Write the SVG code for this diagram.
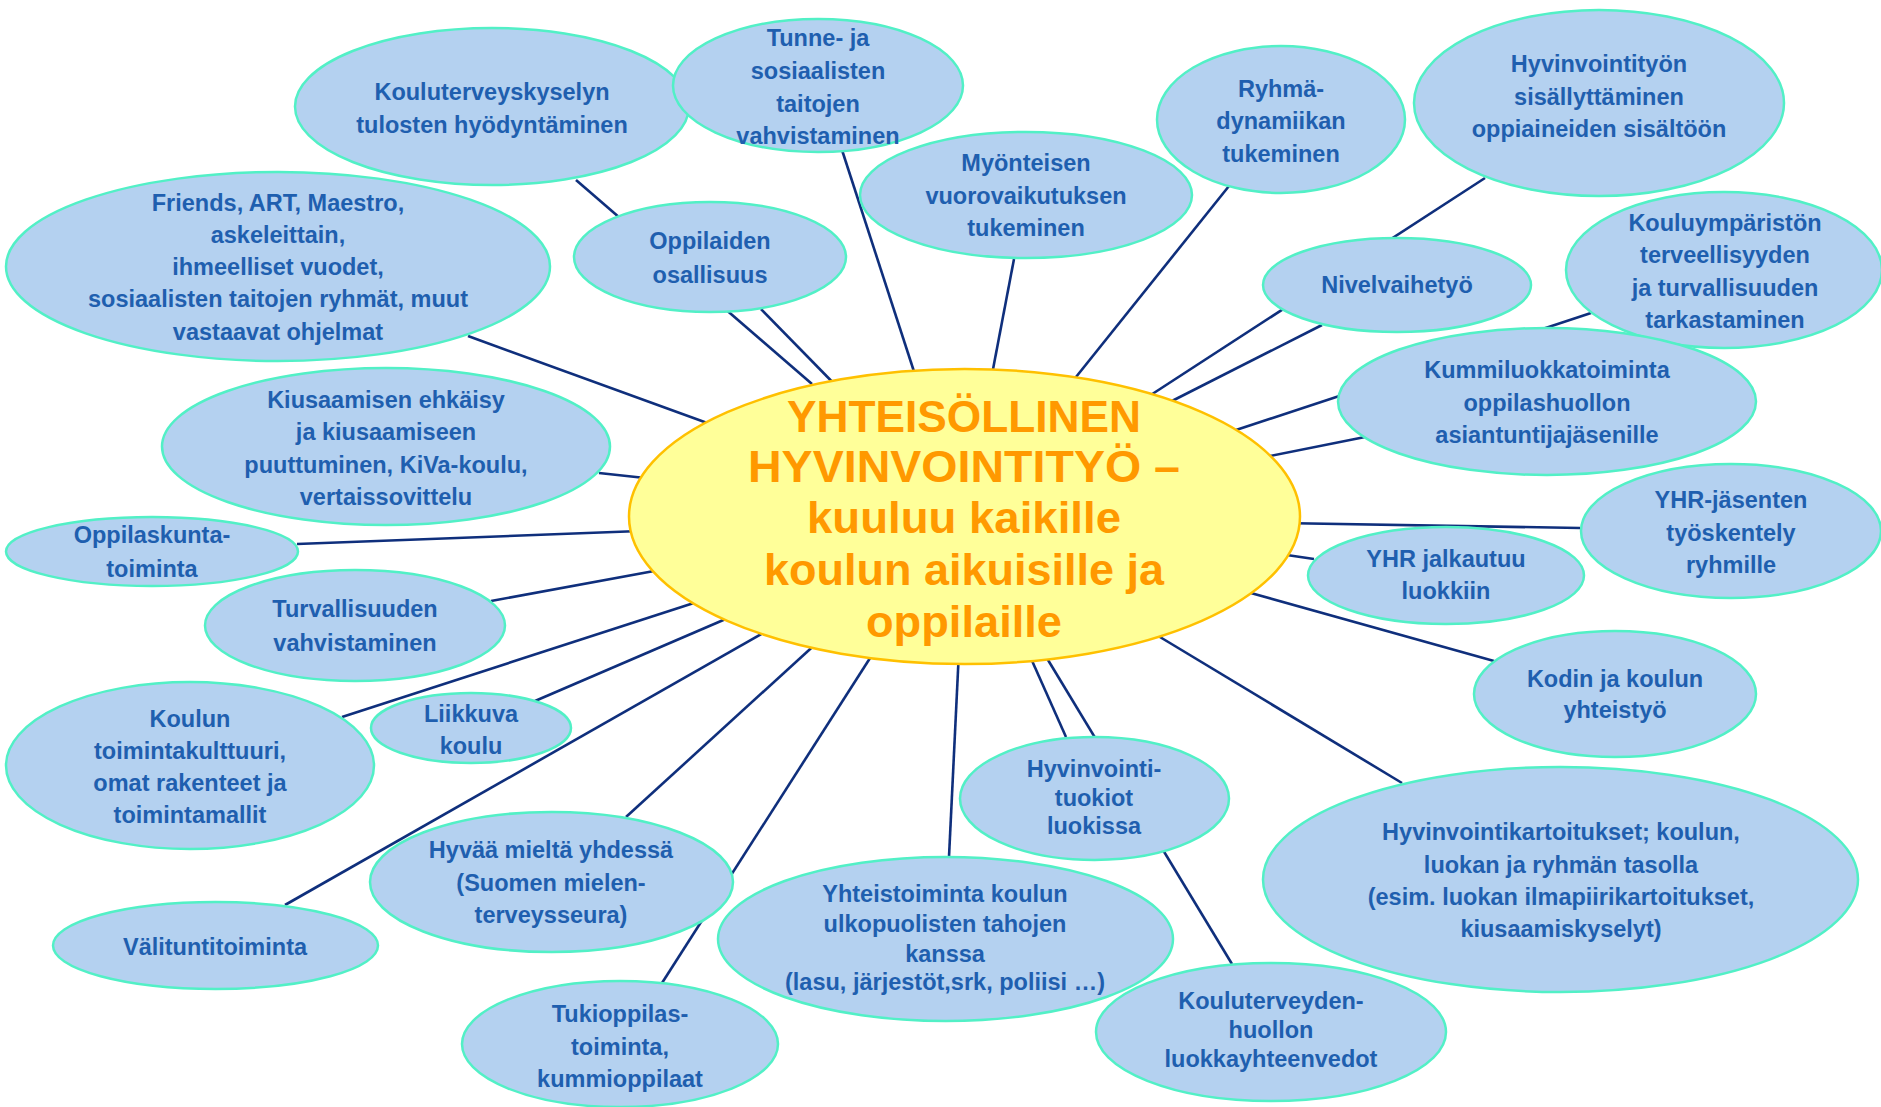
<svg xmlns="http://www.w3.org/2000/svg" width="1881" height="1107" viewBox="0 0 1881 1107">
<style>
.bg{fill:#ffffff}
.lk line{stroke:#0f2f7c;stroke-width:2.6;fill:none}
.nd ellipse{fill:#b4d1f0;stroke:#52f0c6;stroke-width:2.5}
.nd text{font-family:"Liberation Sans Narrow","Liberation Sans",sans-serif;font-weight:bold;font-size:23.5px;fill:#1f5faf;text-anchor:middle}
#center ellipse{fill:#ffff99;stroke:#ffc000;stroke-width:2.5}
#center text{font-family:"Liberation Sans",Arial,sans-serif;font-weight:bold;font-size:44px;fill:#ff9900;text-anchor:middle}
</style>
<rect class="bg" x="0" y="0" width="1881" height="1107"/>
<g id="connectors" class="lk">
<line x1="576" y1="180" x2="812" y2="384"/>
<line x1="761" y1="309" x2="850" y2="400"/>
<line x1="842" y1="150" x2="920" y2="390"/>
<line x1="1014" y1="259" x2="990" y2="385"/>
<line x1="1229" y1="186" x2="1068" y2="387"/>
<line x1="1485" y1="178" x2="1140" y2="402"/>
<line x1="1322" y1="325" x2="1170" y2="402"/>
<line x1="1591" y1="313" x2="1236" y2="430"/>
<line x1="1365" y1="437" x2="1260" y2="458"/>
<line x1="1580" y1="528" x2="1280" y2="523"/>
<line x1="1314" y1="559" x2="1280" y2="554"/>
<line x1="1494" y1="661" x2="1240" y2="590"/>
<line x1="1402" y1="783" x2="1150" y2="631"/>
<line x1="1066" y1="737" x2="1025" y2="645"/>
<line x1="1232" y1="964" x2="1045" y2="655"/>
<line x1="949" y1="857" x2="959" y2="650"/>
<line x1="662" y1="983" x2="872" y2="655"/>
<line x1="626" y1="817" x2="820" y2="640"/>
<line x1="285" y1="905" x2="765" y2="632"/>
<line x1="342" y1="717" x2="700" y2="601"/>
<line x1="535" y1="701" x2="735" y2="615"/>
<line x1="491" y1="601" x2="665" y2="569"/>
<line x1="297" y1="544" x2="640" y2="531"/>
<line x1="599" y1="473" x2="645" y2="478"/>
<line x1="468" y1="336" x2="710" y2="424"/>
</g>
<g id="center">
<ellipse cx="964.5" cy="516.5" rx="335.5" ry="147.5"/>
<text x="964" y="432" textLength="354" lengthAdjust="spacingAndGlyphs">YHTEISÖLLINEN</text>
<text x="964" y="482" textLength="432" lengthAdjust="spacingAndGlyphs">HYVINVOINTITYÖ –</text>
<text x="964" y="533" textLength="314" lengthAdjust="spacingAndGlyphs">kuuluu kaikille</text>
<text x="964" y="585" textLength="400" lengthAdjust="spacingAndGlyphs">koulun aikuisille ja</text>
<text x="964" y="637" textLength="196" lengthAdjust="spacingAndGlyphs">oppilaille</text>
</g>
<g id="n1" class="nd"><ellipse cx="492" cy="106.5" rx="197" ry="78.5"/><text x="492" y="100">Kouluterveyskyselyn</text><text x="492" y="133">tulosten hyödyntäminen</text></g>
<g id="n2" class="nd"><ellipse cx="818" cy="85.5" rx="145" ry="66.5"/><text x="818" y="46">Tunne- ja</text><text x="818" y="79">sosiaalisten</text><text x="818" y="112">taitojen</text><text x="818" y="144">vahvistaminen</text></g>
<g id="n3" class="nd"><ellipse cx="278" cy="266.5" rx="272" ry="94.5"/><text x="278" y="211">Friends, ART, Maestro,</text><text x="278" y="243">askeleittain,</text><text x="278" y="275">ihmeelliset vuodet,</text><text x="278" y="307">sosiaalisten taitojen ryhmät, muut</text><text x="278" y="340">vastaavat ohjelmat</text></g>
<g id="n4" class="nd"><ellipse cx="710" cy="257" rx="136" ry="55"/><text x="710" y="249">Oppilaiden</text><text x="710" y="283">osallisuus</text></g>
<g id="n5" class="nd"><ellipse cx="1026" cy="195" rx="166" ry="63"/><text x="1026" y="171">Myönteisen</text><text x="1026" y="204">vuorovaikutuksen</text><text x="1026" y="236">tukeminen</text></g>
<g id="n6" class="nd"><ellipse cx="1281" cy="119.5" rx="124" ry="73.5"/><text x="1281" y="97">Ryhmä-</text><text x="1281" y="129">dynamiikan</text><text x="1281" y="162">tukeminen</text></g>
<g id="n7" class="nd"><ellipse cx="1599" cy="103" rx="185" ry="93"/><text x="1599" y="72">Hyvinvointityön</text><text x="1599" y="105">sisällyttäminen</text><text x="1599" y="137">oppiaineiden sisältöön</text></g>
<g id="n8" class="nd"><ellipse cx="1397" cy="285" rx="134" ry="47"/><text x="1397" y="293">Nivelvaihetyö</text></g>
<g id="n9" class="nd"><ellipse cx="1724" cy="270" rx="158" ry="78"/><text x="1725" y="231">Kouluympäristön</text><text x="1725" y="263">terveellisyyden</text><text x="1725" y="296">ja turvallisuuden</text><text x="1725" y="328">tarkastaminen</text></g>
<g id="n10" class="nd"><ellipse cx="1547" cy="401.5" rx="209" ry="73.5"/><text x="1547" y="378">Kummiluokkatoiminta</text><text x="1547" y="411">oppilashuollon</text><text x="1547" y="443">asiantuntijajäsenille</text></g>
<g id="n11" class="nd"><ellipse cx="386" cy="446.5" rx="224" ry="78.5"/><text x="386" y="408">Kiusaamisen ehkäisy</text><text x="386" y="440">ja kiusaamiseen</text><text x="386" y="473">puuttuminen, KiVa-koulu,</text><text x="386" y="505">vertaissovittelu</text></g>
<g id="n12" class="nd"><ellipse cx="152" cy="551.5" rx="146" ry="34.5"/><text x="152" y="543">Oppilaskunta-</text><text x="152" y="577">toiminta</text></g>
<g id="n13" class="nd"><ellipse cx="1731" cy="531" rx="150" ry="67"/><text x="1731" y="508">YHR-jäsenten</text><text x="1731" y="541">työskentely</text><text x="1731" y="573">ryhmille</text></g>
<g id="n14" class="nd"><ellipse cx="1446" cy="575.5" rx="138" ry="48.5"/><text x="1446" y="567">YHR jalkautuu</text><text x="1446" y="599">luokkiin</text></g>
<g id="n15" class="nd"><ellipse cx="355" cy="625.5" rx="150" ry="55.5"/><text x="355" y="617">Turvallisuuden</text><text x="355" y="651">vahvistaminen</text></g>
<g id="n16" class="nd"><ellipse cx="1615" cy="694" rx="141" ry="63"/><text x="1615" y="687">Kodin ja koulun</text><text x="1615" y="718">yhteistyö</text></g>
<g id="n17" class="nd"><ellipse cx="190" cy="765.5" rx="184" ry="83.5"/><text x="190" y="727">Koulun</text><text x="190" y="759">toimintakulttuuri,</text><text x="190" y="791">omat rakenteet ja</text><text x="190" y="823">toimintamallit</text></g>
<g id="n18" class="nd"><ellipse cx="471" cy="728" rx="100" ry="35"/><text x="471" y="722">Liikkuva</text><text x="471" y="754">koulu</text></g>
<g id="n19" class="nd"><ellipse cx="1094.5" cy="798.5" rx="134.5" ry="61.5"/><text x="1094" y="777">Hyvinvointi-</text><text x="1094" y="806">tuokiot</text><text x="1094" y="834">luokissa</text></g>
<g id="n21" class="nd"><ellipse cx="551.5" cy="882" rx="181.5" ry="70"/><text x="551" y="858">Hyvää mieltä yhdessä</text><text x="551" y="891">(Suomen mielen-</text><text x="551" y="923">terveysseura)</text></g>
<g id="n23" class="nd"><ellipse cx="945.5" cy="939" rx="227.5" ry="82"/><text x="945" y="902">Yhteistoiminta koulun</text><text x="945" y="932">ulkopuolisten tahojen</text><text x="945" y="962">kanssa</text><text x="945" y="990">(lasu, järjestöt,srk, poliisi …)</text></g>
<g id="n20" class="nd"><ellipse cx="1560.5" cy="879.5" rx="297.5" ry="112.5"/><text x="1561" y="840">Hyvinvointikartoitukset; koulun,</text><text x="1561" y="873">luokan ja ryhmän tasolla</text><text x="1561" y="905">(esim. luokan ilmapiirikartoitukset,</text><text x="1561" y="937">kiusaamiskyselyt)</text></g>
<g id="n24" class="nd"><ellipse cx="1271" cy="1032" rx="175" ry="69"/><text x="1271" y="1009">Kouluterveyden-</text><text x="1271" y="1038">huollon</text><text x="1271" y="1067">luokkayhteenvedot</text></g>
<g id="n22" class="nd"><ellipse cx="215.5" cy="945.5" rx="162.5" ry="43.5"/><text x="215" y="955">Välituntitoiminta</text></g>
<g id="n25" class="nd"><ellipse cx="620" cy="1044" rx="158" ry="63"/><text x="620" y="1022">Tukioppilas-</text><text x="620" y="1055">toiminta,</text><text x="620" y="1087">kummioppilaat</text></g>
</svg>
